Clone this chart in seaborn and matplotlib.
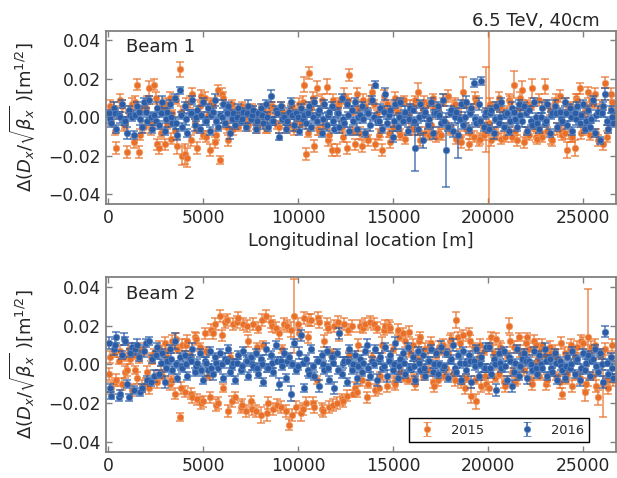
import numpy as np
import pandas as pd
import matplotlib
matplotlib.use("Agg")
import matplotlib.pyplot as plt
import seaborn as sns

# ---------------- data (delta values and errors in units of 1e-3 m^1/2) ----------------
bpm_s = [
    30, 160, 290, 430, 560, 700, 830, 960, 1100, 1230,
    1360, 1490, 1630, 1760, 1890, 2030, 2160, 2290, 2430, 2560,
    2690, 2830, 2960, 3090, 3230, 3360, 3490, 3630, 3760, 3890,
    4030, 4160, 4290, 4430, 4560, 4690, 4830, 4960, 5090, 5230,
    5360, 5490, 5630, 5760, 5890, 6030, 6160, 6290, 6430, 6560,
    6690, 6830, 6960, 7090, 7230, 7360, 7490, 7630, 7760, 7890,
    8030, 8160, 8290, 8430, 8560, 8690, 8830, 8960, 9090, 9230,
    9360, 9490, 9630, 9760, 9890, 10030, 10160, 10290, 10430, 10560,
    10690, 10830, 10960, 11090, 11230, 11360, 11490, 11630, 11760, 11890,
    12030, 12160, 12290, 12430, 12560, 12690, 12830, 12960, 13090, 13230,
    13360, 13490, 13630, 13760, 13890, 14030, 14160, 14290, 14430, 14560,
    14690, 14830, 14960, 15090, 15230, 15360, 15490, 15630, 15760, 15890,
    16030, 16160, 16290, 16430, 16560, 16690, 16830, 16960, 17090, 17230,
    17360, 17490, 17630, 17760, 17890, 18030, 18160, 18290, 18430, 18560,
    18690, 18830, 18960, 19090, 19230, 19360, 19490, 19630, 19760, 19890,
    20030, 20160, 20290, 20430, 20560, 20690, 20830, 20960, 21090, 21230,
    21360, 21490, 21630, 21760, 21890, 22030, 22160, 22290, 22430, 22560,
    22690, 22830, 22960, 23090, 23230, 23360, 23490, 23630, 23760, 23890,
    24030, 24160, 24290, 24430, 24560, 24690, 24830, 24960, 25090, 25230,
    25360, 25490, 25630, 25760, 25890, 26030, 26160, 26290, 26430, 26560,
]
bpm_s_extra = [
    95, 360, 630, 900, 1165,
    1425, 1690, 1960, 2230, 2495,
    2760, 3025, 3295, 3560, 3830,
    4095, 4360, 4625, 4895, 5160,
    5425, 5690, 5960, 6225, 6495,
    6760, 7025, 7290, 7560, 7825,
    8095, 8360, 8625, 8890, 9160,
    9425, 9690, 9960, 10225, 10495,
    10760, 11025, 11290, 11560, 11825,
    12095, 12360, 12625, 12890, 13160,
    13425, 13690, 13960, 14225, 14495,
    14760, 15025, 15290, 15560, 15825,
    16095, 16360, 16625, 16890, 17160,
    17425, 17690, 17960, 18225, 18495,
    18760, 19025, 19290, 19560, 19825,
    20095, 20360, 20625, 20890, 21160,
    21425, 21690, 21960, 22225, 22495,
    22760, 23025, 23290, 23560, 23825,
    24095, 24360, 24625, 24895, 25160,
    25425, 25690, 25960, 26225, 26495,
]

b1_2015 = [
    3, -2, 5, -16, 1, 6, -4, -18, 2, 7,
    -13, 17, -18, 4, -5, 9, 15, -3, 17, -14,
    -16, 6, -14, -4, 10, 2, -7, -15, 25, -20,
    -19, -21, 8, 12, -3, -16, 6, -9, 10, 1,
    -17, 7, -13, 14, -22, 10, -4, -12, 5, -6,
    3, -5, 2, -2, 5, -4, 1, 4, -3, 2,
    -3, 4, -6, 2, 5, -2, 3, -5, 6, -1,
    2, -4, 5, -6, 3, 7, -3, 17, -19, 23,
    5, -15, 15, -7, 9, -4, 16, -9, -17, 6,
    -17, 8, -5, 11, -16, 22, 3, -14, 12, -8,
    -15, 6, -10, 9, 13, -14, 2, -7, -17, 4,
    7, -13, -5, 10, 3, -9, 8, -11, 1, 6,
    -6, 9, 13, -12, 4, -8, 7, -4, 10, -10,
    5, -9, 8, -3, 11, -7, 6, -11, 2, -13,
    13, -6, -14, 5, -10, 8, -12, -3, -9, 4,
    -3, -12, 6, -8, 10, -11, 3, -6, 9, -10,
    17, -12, 5, 14, -13, 7, -9, 15, -5, -11,
    9, -10, 16, -7, 4, -12, 8, -6, 11, -9,
    -8, -17, 6, -10, -16, 9, 15, -7, 3, 13,
    -9, 7, 12, -12, 5, -14, 18, -6, 12, 3,
]
b1_2015_err = [
    3, 2, 3, 3, 2, 3, 3, 3, 2, 3,
    3, 3, 3, 2, 3, 2, 4, 2, 3, 3,
    3, 2, 3, 2, 3, 2, 3, 4, 4, 5,
    5, 5, 3, 3, 2, 3, 3, 2, 3, 2,
    3, 2, 3, 3, 2, 3, 2, 3, 2, 3,
    2, 2, 3, 2, 2, 3, 2, 2, 3, 2,
    2, 3, 2, 2, 3, 2, 2, 3, 2, 2,
    2, 3, 2, 3, 2, 3, 2, 4, 3, 3,
    3, 3, 4, 2, 3, 2, 4, 3, 3, 2,
    3, 2, 3, 4, 3, 3, 2, 3, 3, 3,
    3, 2, 3, 2, 4, 3, 2, 3, 3, 2,
    2, 3, 2, 3, 2, 3, 2, 3, 2, 3,
    3, 2, 5, 3, 2, 3, 2, 3, 2, 3,
    2, 3, 2, 3, 3, 2, 3, 3, 2, 3,
    8, 3, 3, 2, 3, 3, 3, 2, 3, 22,
    60, 3, 2, 3, 3, 3, 2, 3, 3, 3,
    7, 3, 2, 5, 3, 2, 3, 5, 2, 3,
    3, 3, 4, 2, 3, 3, 2, 3, 3, 3,
    3, 4, 2, 3, 4, 3, 3, 2, 3, 3,
    3, 2, 3, 3, 2, 3, 3, 2, 3, 3,
]
b1_2015_extra = [
    6, -7, 9, -3, 4,
    8, -9, 5, -6, 10,
    -8, 7, -11, 9, 3,
    7, -12, -6, 11, -10,
    8, -9, 12, -5, 7,
    -4, 6, -3, 5, -6,
    4, -5, 6, -4, 3,
    -5, 6, -2, 8, -8,
    10, -6, 7, -12, 9,
    6, -10, 9, -7, 5,
    9, -12, 7, -9, 11,
    -8, 5, -7, 9, -6,
    6, -7, 8, -9, 5,
    -8, 9, -6, 7, -10,
    7, -8, 10, -11, -7,
    7, -9, 5, -10, 8,
    -7, 10, -8, 6, -10,
    -8, 7, -11, 9, -7,
    7, -10, 10, -8, 6,
    9, -8, 6, -10, 8,
]
b1_2015_extra_err = [
    3, 2, 3, 3, 2, 3, 3, 2, 3, 3, 2, 3, 3, 2, 3, 3, 3, 2, 3, 3,
    2, 3, 3, 3, 2, 2, 2, 3, 2, 2, 2, 3, 2, 2, 3, 3, 2, 3, 3, 2,
    3, 3, 2, 3, 3, 2, 3, 3, 2, 3, 3, 3, 2, 3, 3, 2, 3, 3, 2, 3,
    3, 2, 3, 3, 2, 3, 3, 2, 3, 3, 2, 3, 3, 3, 2, 3, 3, 2, 3, 3,
    2, 3, 3, 2, 3, 3, 2, 3, 3, 3, 3, 3, 2, 3, 2, 3, 2, 3, 3, 3,
]

b1_2016 = [
    2, -3, 5, -6, 1, 7, -2, -8, 4, 0,
    -9, 6, 3, -5, 8, -2, 9, -6, 1, 5,
    -4, 8, -7, 3, 7, -3, 10, -9, 14, -5,
    6, -8, 2, 9, -4, 4, -6, 8, -2, 5,
    -7, 3, 9, -5, 1, 7, -3, 6, -8, 2,
    -4, 5, -2, 3, -5, 6, -1, 4, -6, 2,
    5, -3, 7, -5, 11, -2, 4, -10, 6, 0,
    -6, 3, 8, -4, 2, -7, 5, 1, -3, 6,
    -5, 8, -2, 4, -8, 7, -4, 3, 6, -6,
    2, -5, 10, -3, 7, -7, 4, 8, -6, 1,
    6, -8, 3, -4, 9, 17, -2, 5, -6, 12,
    -3, 4, -10, 7, -5, 8, -2, 3, -7, 5,
    4, -16, -6, 7, -12, 3, -4, 8, -8, 2,
    6, -3, 9, -17, -5, 4, -7, 3, -9, 7,
    -4, 8, -6, 5, 18, -3, 7, 19, -5, 3,
    -6, 4, -8, 6, -3, 8, -5, 2, -7, 5,
    3, -5, 7, -2, 6, -7, 4, -4, 8, -3,
    -6, 5, -3, 7, -8, 2, 6, -5, 3, -2,
    8, -4, 5, -7, 2, 6, -3, 7, -6, 4,
    -5, 9, -8, 3, -12, 6, 12, -6, 4, -3,
]
b1_2016_err = [
    2, 2, 3, 2, 2, 2, 2, 3, 2, 2,
    2, 2, 2, 3, 2, 2, 2, 2, 2, 3,
    2, 3, 2, 2, 2, 2, 2, 3, 2, 2,
    2, 2, 2, 2, 3, 2, 2, 2, 2, 2,
    2, 2, 3, 2, 2, 2, 2, 2, 3, 2,
    2, 2, 2, 2, 2, 3, 2, 2, 2, 2,
    2, 3, 2, 2, 3, 2, 2, 2, 2, 2,
    2, 2, 2, 3, 2, 2, 2, 2, 3, 2,
    2, 2, 2, 2, 2, 2, 3, 2, 2, 2,
    2, 3, 2, 2, 2, 2, 2, 2, 3, 2,
    2, 2, 2, 3, 2, 2, 2, 2, 2, 3,
    2, 2, 3, 2, 2, 2, 2, 3, 2, 2,
    2, 12, 3, 2, 4, 2, 2, 2, 3, 2,
    2, 2, 3, 19, 2, 2, 3, 2, 12, 2,
    2, 3, 2, 2, 2, 2, 3, 2, 2, 2,
    2, 2, 3, 2, 2, 2, 2, 2, 2, 3,
    2, 2, 2, 3, 2, 2, 2, 2, 2, 2,
    2, 3, 2, 2, 2, 2, 3, 2, 2, 2,
    2, 2, 2, 2, 3, 2, 2, 2, 2, 2,
    2, 2, 2, 3, 2, 2, 3, 2, 2, 2,
]
b1_2016_extra = [
    -1, 2, 0, -2, 1,
    1, -1, 3, 0, -2,
    2, -1, 0, -3, 1,
    -1, 2, 0, 1, -2,
    1, -2, 0, 2, -1,
    0, -1, 2, 1, -2,
    1, 0, -2, 2, -1,
    -2, 1, 0, -1, 2,
    0, 2, -1, 1, -2,
    2, -1, 1, -2, 0,
    -1, 2, 0, -2, 3,
    1, -2, 0, 2, -1,
    -2, 0, 1, -1, 2,
    1, -2, 2, 0, -1,
    0, 2, -1, -2, 1,
    2, -1, 0, 1, -2,
    -1, 1, 2, -2, 0,
    0, -2, 1, 2, -1,
    2, 0, -1, 1, -2,
    -1, 1, 2, -2, 0,
]
b1_2016_extra_err = [
    2, 2, 3, 2, 2, 2, 3, 2, 2, 2, 2, 2, 2, 3, 2, 3, 2, 2, 2, 2,
    2, 2, 3, 2, 2, 2, 2, 2, 2, 3, 2, 3, 2, 2, 2, 2, 2, 2, 3, 2,
    2, 2, 3, 2, 2, 3, 2, 2, 2, 2, 2, 2, 2, 2, 3, 2, 3, 2, 2, 2,
    2, 2, 3, 2, 2, 2, 2, 2, 3, 2, 3, 2, 2, 2, 2, 2, 2, 3, 2, 2,
    2, 3, 2, 2, 2, 2, 2, 2, 2, 3, 2, 2, 3, 2, 2, 2, 3, 2, 2, 2,
]

b2_2015 = [
    -5, -12, 6, -8, 2, -10, 4, -3, 8, -13,
    5, -7, 3, -11, 7, -4, -12, 2, 6, -9,
    9, -6, 11, 4, -10, 12, -15, 8, -27, 10,
    -14, 12, 5, -17, 14, -18, 9, -19, 16, -6,
    -17, 16, 21, -20, 25, -12, 22, -24, 4, 21,
    -17, 24, -22, 21, -24, 12, -19, 21, -24, 19,
    -26, 10, 25, -20, 22, -23, 19, 16, -22, 21,
    -24, -31, 18, 25, -22, 16, -25, 24, -20, 23,
    23, -22, -8, 22, -23, 12, 21, -22, 6, 20,
    -20, 16, -18, 21, -16, 5, 20, -12, -14, 20,
    -8, 21, -17, 22, 4, -13, 19, -6, 10, 20,
    -11, 19, 8, -10, 18, -4, 16, 12, -8, 6,
    10, -10, 3, 14, -6, 8, -3, 11, -9, 5,
    -8, 7, 10, -2, 6, 13, -5, 23, 14, -9,
    15, -7, 16, -16, 9, -19, 4, -11, 7, -10,
    -12, 14, 6, 13, -5, 8, -9, 5, 20, -4,
    9, -7, 14, 6, -3, 14, 8, -10, 12, 2,
    -6, 10, 5, -8, 9, -4, 7, 3, -9, -15,
    6, -5, 8, -11, 4, 9, -7, 11, -14, 14,
    7, -6, 10, -17, 5, -10, 8, -12, 4, -8,
]
b2_2015_err = [
    3, 3, 2, 3, 2, 3, 2, 3, 3, 3,
    2, 3, 2, 3, 2, 3, 3, 2, 2, 3,
    3, 2, 3, 2, 3, 3, 3, 2, 2, 3,
    3, 3, 2, 3, 3, 3, 2, 3, 3, 2,
    3, 3, 3, 3, 3, 2, 3, 3, 2, 3,
    3, 3, 3, 3, 3, 3, 3, 3, 3, 3,
    4, 2, 3, 3, 3, 3, 3, 3, 3, 3,
    3, 3, 4, 19, 3, 3, 4, 3, 3, 3,
    3, 3, 2, 3, 3, 3, 3, 3, 2, 3,
    3, 4, 3, 3, 3, 2, 3, 3, 3, 3,
    3, 3, 3, 3, 2, 3, 3, 2, 4, 3,
    3, 3, 2, 3, 3, 2, 3, 3, 2, 2,
    3, 3, 2, 3, 2, 3, 2, 3, 3, 2,
    3, 2, 3, 2, 2, 3, 2, 4, 3, 3,
    3, 2, 3, 4, 2, 4, 2, 3, 2, 3,
    3, 3, 2, 3, 2, 3, 3, 2, 4, 2,
    3, 3, 2, 2, 3, 2, 3, 3, 3, 2,
    2, 3, 2, 3, 3, 2, 3, 2, 3, 3,
    3, 2, 3, 3, 2, 3, 3, 3, 5, 25,
    3, 2, 3, 4, 2, 17, 3, 3, 2, 3,
]
b2_2015_extra = [
    4, -9, 7, -4, 3,
    -3, 8, -10, 4, -6,
    -4, 7, -8, 13, -12,
    10, -15, 13, -20, 7,
    18, -21, 15, 23, -19,
    22, -21, 20, -23, 9,
    23, -25, 20, -21, 8,
    20, -26, 21, -23, 14,
    -20, 24, -24, 19, -21,
    22, -19, 18, -15, 10,
    19, -10, 21, -12, 18,
    20, -9, 14, -7, 17,
    -7, 12, -4, 9, -11,
    9, -6, 12, -8, 11,
    -12, 12, -8, 10, -6,
    10, -7, 9, -11, 12,
    -9, 7, 11, -8, 10,
    8, -10, 6, -6, 11,
    -8, 10, -6, 12, -10,
    9, -11, 6, -8, 10,
]
b2_2015_extra_err = [
    3, 2, 3, 3, 3, 2, 3, 3, 2, 3, 3, 3, 2, 3, 3, 3, 3, 3, 3, 2,
    3, 3, 3, 3, 3, 3, 3, 3, 3, 2, 3, 4, 3, 3, 2, 3, 3, 3, 3, 3,
    3, 3, 3, 3, 3, 3, 3, 3, 2, 3, 3, 2, 3, 3, 3, 3, 3, 2, 2, 3,
    2, 3, 2, 3, 3, 3, 2, 3, 3, 3, 3, 3, 2, 3, 2, 3, 2, 3, 3, 3,
    2, 3, 3, 2, 3, 3, 3, 2, 2, 3, 2, 3, 2, 3, 3, 3, 3, 2, 2, 3,
]

b2_2016 = [
    11, -16, 8, 14, -17, 5, 13, -10, -17, 9,
    -13, 10, 4, -12, 7, -8, 12, 3, -6, 9,
    -5, 6, -9, 2, 8, -3, 12, -7, 4, -2,
    5, -6, 3, 8, -4, 1, 6, -8, 2, -3,
    7, -5, 4, -2, 6, -7, 3, 8, -4, 1,
    -8, 5, -3, 7, 2, -6, 4, -1, 6, -5,
    3, -9, 8, -2, 5, -4, 10, -10, 2, 6,
    -7, 4, -15, 11, -3, 6, 15, -12, 3, -5,
    8, -6, 2, -11, 5, -3, 7, -8, 4, -12,
    6, 16, -5, 2, -9, 8, -3, 5, -7, 3,
    -4, 7, 10, -6, 2, 8, -8, 4, -2, 9,
    -6, 5, -3, 11, -7, 3, 6, -5, 9, -2,
    4, -8, 7, -3, 5, -6, 2, 8, -4, 6,
    -5, 9, -2, 6, -7, 3, 10, -4, 5, -8,
    7, -3, 5, -9, 2, 8, -6, 4, -2, 9,
    9, -5, 3, -13, 6, -2, 7, -8, 4, -11,
    -4, 8, -6, 3, 6, -7, 2, -3, 7, -5,
    5, -2, 8, -6, 3, -4, 6, -8, 2, -3,
    -7, 4, -2, 7, -5, 3, -8, 6, -3, 5,
    -6, 3, 8, -4, 6, -9, 17, -5, 4, -7,
]
b2_2016_err = [
    3, 2, 3, 3, 2, 2, 3, 2, 2, 2,
    2, 3, 2, 2, 3, 2, 2, 2, 3, 2,
    2, 2, 3, 2, 2, 2, 4, 2, 2, 2,
    2, 2, 2, 3, 2, 2, 2, 2, 2, 3,
    2, 3, 2, 2, 2, 2, 3, 2, 2, 2,
    2, 2, 2, 2, 3, 2, 2, 2, 2, 2,
    2, 2, 3, 2, 2, 2, 2, 3, 2, 2,
    2, 2, 4, 2, 2, 3, 3, 2, 2, 2,
    2, 2, 2, 3, 2, 2, 2, 2, 2, 3,
    2, 3, 2, 2, 2, 2, 2, 2, 3, 2,
    2, 2, 3, 2, 2, 2, 3, 2, 2, 2,
    3, 2, 2, 3, 2, 2, 2, 2, 2, 2,
    2, 2, 2, 2, 3, 2, 2, 2, 2, 2,
    2, 3, 2, 2, 2, 2, 3, 2, 2, 2,
    2, 2, 2, 3, 2, 2, 2, 2, 2, 2,
    2, 2, 2, 3, 2, 2, 2, 2, 2, 3,
    2, 2, 2, 2, 2, 3, 2, 2, 2, 2,
    2, 2, 3, 2, 2, 2, 2, 2, 2, 2,
    2, 2, 2, 2, 2, 2, 3, 2, 2, 2,
    2, 2, 2, 2, 2, 3, 3, 2, 2, 2,
]
b2_2016_extra = [
    -12, 10, -15, 12, 6,
    8, -14, 11, -9, 5,
    1, -2, 3, 0, -1,
    0, 2, -1, -3, 1,
    -2, 1, 0, 2, -1,
    1, -1, 2, 0, -2,
    0, -2, 1, 2, -1,
    2, 0, -1, 1, -3,
    -1, 2, 0, -2, 1,
    -3, 1, 2, 0, -1,
    1, -2, 0, 3, -1,
    2, 0, -1, 1, -2,
    -1, 1, -2, 2, 0,
    0, -1, 2, -2, 1,
    1, 2, -1, 0, -2,
    -2, 0, 1, -1, 2,
    1, -1, 2, 0, -2,
    0, 2, -2, 1, -1,
    -1, 0, 2, -2, 1,
    2, -1, 0, 1, -2,
]
b2_2016_extra_err = [
    2, 3, 2, 2, 2, 3, 2, 2, 2, 2, 2, 2, 3, 2, 2, 2, 2, 2, 2, 3,
    2, 3, 2, 2, 2, 2, 2, 2, 3, 2, 2, 2, 3, 2, 2, 3, 2, 2, 2, 3,
    2, 2, 2, 2, 2, 2, 3, 2, 2, 2, 2, 2, 2, 3, 2, 2, 2, 3, 2, 2,
    3, 2, 2, 2, 2, 2, 2, 2, 2, 3, 2, 3, 2, 2, 2, 2, 2, 2, 3, 2,
    2, 2, 3, 2, 2, 2, 2, 2, 2, 2, 2, 3, 2, 2, 2, 2, 2, 3, 2, 3,
]

years = ["2015", "2016"]
beam_labels = ["Beam 1", "Beam 2"]
x_ticks = [0, 5000, 10000, 15000, 20000, 25000]
y_ticks = [-0.04, -0.02, 0.00, 0.02, 0.04]
title_text = "6.5 TeV, 40cm"
x_label = "Longitudinal location [m]"
y_label = r"$\Delta(D_x/\sqrt{\beta_x}\ $)[m$^{1/2}$]"

colors = {"2015": "#e8702a", "2016": "#2b5ca4"}
edge_colors = {"2015": "#f09a60", "2016": "#5a86c4"}

# ---------------- style ----------------
sns.set_theme(style="ticks", rc={
    "axes.edgecolor": "#808080",
    "axes.linewidth": 1.3,
    "xtick.direction": "in",
    "ytick.direction": "in",
    "xtick.top": True,
    "ytick.right": True,
    "xtick.color": "#808080",
    "ytick.color": "#808080",
    "xtick.labelcolor": "#262626",
    "ytick.labelcolor": "#262626",
    "xtick.major.size": 4,
    "ytick.major.size": 4,
    "xtick.major.width": 1.0,
    "ytick.major.width": 1.0,
    "xtick.labelsize": 12.3,
    "ytick.labelsize": 12.3,
    "axes.labelsize": 13,
    "axes.labelcolor": "#262626",
    "text.color": "#262626",
})
plt.rcParams["font.family"] = ["DejaVu Sans"]
plt.rcParams["axes.unicode_minus"] = True

fig = plt.figure(figsize=(6.17, 4.78), dpi=100)
ax1 = fig.add_axes([0.1718, 0.5732, 0.8266, 0.3626])
ax2 = fig.add_axes([0.1718, 0.0550, 0.8266, 0.3649])

beams = [
    (ax1, {"2015": (b1_2015, b1_2015_err, b1_2015_extra, b1_2015_extra_err),
           "2016": (b1_2016, b1_2016_err, b1_2016_extra, b1_2016_extra_err)}),
    (ax2, {"2015": (b2_2015, b2_2015_err, b2_2015_extra, b2_2015_extra_err),
           "2016": (b2_2016, b2_2016_err, b2_2016_extra, b2_2016_extra_err)}),
]

for bi, (ax, series) in enumerate(beams):
    z = 2.0
    for yr in years:
        vals, errs, vals_x, errs_x = series[yr]
        df = pd.DataFrame({
            "s": list(bpm_s) + list(bpm_s_extra),
            "delta": np.asarray(list(vals) + list(vals_x), dtype=float) * 1e-3,
            "err": np.asarray(list(errs) + list(errs_x), dtype=float) * 1e-3,
        }).sort_values("s")
        ax.errorbar(df["s"], df["delta"], yerr=df["err"], fmt="none",
                    ecolor=colors[yr], alpha=0.8, elinewidth=1.1,
                    capsize=3, capthick=1.1, zorder=z)
        sns.scatterplot(data=df, x="s", y="delta", ax=ax, color=colors[yr],
                        s=22, edgecolor=edge_colors[yr], linewidth=0.5,
                        legend=False, zorder=z + 0.1)
        z += 0.2
    ax.set_xlim(-120, 26720)
    ax.set_ylim(-0.045, 0.045)
    ax.set_xticks(x_ticks)
    ax.set_yticks(y_ticks)
    ax.set_yticklabels([f"{v:.2f}".replace("-", "\u2212") for v in y_ticks])
    ax.set_ylabel(y_label, labelpad=8)
    ax.set_xlabel("")
    ax.text(0.04, 0.905, beam_labels[bi], transform=ax.transAxes,
            fontsize=13, ha="left", va="center")

ax1.set_xlabel(x_label, labelpad=4)
fig.text(0.972, 0.957, title_text, ha="right", va="center", fontsize=13)

handles = []
for yr in years:
    h = ax2.errorbar([np.nan], [np.nan], yerr=[np.nan], fmt="o",
                     color=colors[yr], ecolor=colors[yr], ms=4.5,
                     mec=edge_colors[yr], mew=0.5, elinewidth=1.1,
                     capsize=3, capthick=1.1, label=yr)
    handles.append(h)
leg = ax2.legend(handles=handles, labels=years, loc="lower right",
                 bbox_to_anchor=(0.947, 0.057), ncol=2, frameon=True,
                 fancybox=False, edgecolor="black", framealpha=1,
                 fontsize=9.4, columnspacing=2.3, borderaxespad=0,
                 handletextpad=0.8)
leg.get_frame().set_linewidth(1.0)

fig.savefig("out.png", dpi=100)
